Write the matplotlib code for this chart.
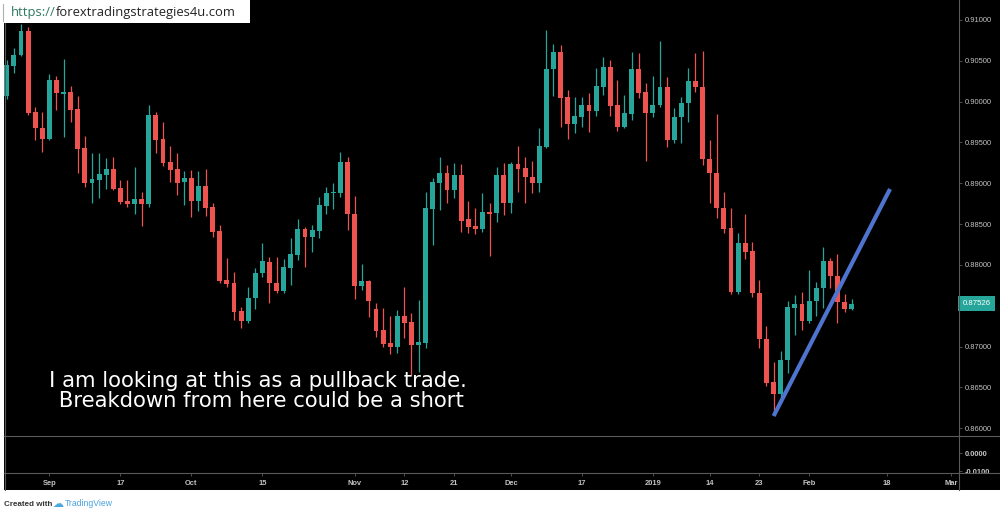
import matplotlib
matplotlib.use("Agg")
import matplotlib.pyplot as plt
import pandas as pd
from matplotlib.patches import Rectangle
from matplotlib.lines import Line2D

# ---------------- data (daily candles) ----------------
opens = [0.90069, 0.90436, 0.90571, 0.90865, 0.89873, 0.89677, 0.89542, 0.90265, 0.90093, 0.90118,
         0.89910, 0.89432, 0.89003, 0.89040, 0.89101, 0.89175, 0.88942, 0.88783, 0.88746, 0.88807,
         0.88746, 0.89836, 0.89542, 0.89260, 0.89175, 0.89015, 0.89064, 0.88783, 0.88966, 0.88709,
         0.88415, 0.87815, 0.87778, 0.87435, 0.87313, 0.87594, 0.87901, 0.88035, 0.87778, 0.87680,
         0.87962, 0.88121, 0.88440, 0.88342, 0.88415, 0.88721, 0.88881, 0.88881, 0.89260, 0.88623,
         0.87741, 0.87803, 0.87460, 0.87202, 0.87043, 0.86994, 0.87374, 0.87300, 0.87019, 0.87043,
         0.88685, 0.89003, 0.89126, 0.88917, 0.89101, 0.88562, 0.88476, 0.88440, 0.88648, 0.88636,
         0.89101, 0.88758, 0.89236, 0.89187, 0.89077, 0.89003, 0.89444, 0.90400, 0.90608, 0.90057,
         0.89726, 0.89812, 0.89959, 0.89885, 0.90179, 0.90424, 0.89959, 0.89689, 0.89848, 0.90400,
         0.90118, 0.89861, 0.89959, 0.90179, 0.89530, 0.89812, 0.89983, 0.90253, 0.90179, 0.89297,
         0.89126, 0.88697, 0.88452, 0.87668, 0.88268, 0.88170, 0.87656, 0.87092, 0.86565, 0.86418,
         0.86835, 0.87472, 0.87521, 0.87313, 0.87558, 0.87717, 0.88048, 0.87864, 0.87545, 0.87460]
highs = [0.90510, 0.90657, 0.90951, 0.90914, 0.89934, 0.89873, 0.90338, 0.90314, 0.90522, 0.90191,
         0.90069, 0.89579, 0.89371, 0.89371, 0.89309, 0.89322, 0.89040, 0.89040, 0.89199, 0.88893,
         0.89959, 0.89873, 0.89750, 0.89456, 0.89371, 0.89150, 0.89162, 0.89150, 0.89175, 0.88758,
         0.88489, 0.88084, 0.87913, 0.87484, 0.87729, 0.87962, 0.88268, 0.88097, 0.88097, 0.88072,
         0.88329, 0.88562, 0.88464, 0.88489, 0.88832, 0.88954, 0.89003, 0.89383, 0.89322, 0.88844,
         0.88011, 0.87815, 0.87533, 0.87472, 0.87374, 0.87447, 0.87729, 0.87411, 0.87570, 0.88893,
         0.89064, 0.89322, 0.89224, 0.89248, 0.89236, 0.88783, 0.88697, 0.88881, 0.88758, 0.89199,
         0.89248, 0.89260, 0.89456, 0.89322, 0.89273, 0.89677, 0.90877, 0.90706, 0.90694, 0.90142,
         0.90057, 0.90057, 0.90106, 0.90412, 0.90547, 0.90510, 0.90265, 0.90081, 0.90608, 0.90596,
         0.90228, 0.90314, 0.90743, 0.90302, 0.89922, 0.90057, 0.90412, 0.90596, 0.90620, 0.89530,
         0.89848, 0.88893, 0.88697, 0.88391, 0.88623, 0.88280, 0.87815, 0.87251, 0.86810, 0.86945,
         0.87558, 0.87631, 0.87668, 0.87937, 0.87790, 0.88219, 0.88084, 0.88133, 0.87643, 0.87582]
lows = [0.90032, 0.90351, 0.90559, 0.89836, 0.89530, 0.89383, 0.89530, 0.89897, 0.89567, 0.89750,
        0.89126, 0.88954, 0.88758, 0.88819, 0.88930, 0.88917, 0.88746, 0.88709, 0.88623, 0.88476,
        0.88709, 0.89371, 0.89211, 0.89015, 0.88856, 0.88734, 0.88587, 0.88660, 0.88599, 0.88342,
        0.87778, 0.87729, 0.87325, 0.87227, 0.87288, 0.87460, 0.87852, 0.87533, 0.87656, 0.87656,
        0.87754, 0.88060, 0.87974, 0.88158, 0.88329, 0.88623, 0.88685, 0.88832, 0.88427, 0.87582,
        0.87692, 0.87362, 0.87117, 0.86994, 0.86908, 0.86921, 0.87104, 0.86651, 0.86688, 0.86982,
        0.88244, 0.88672, 0.88758, 0.88819, 0.88403, 0.88391, 0.88378, 0.88403, 0.88109, 0.88525,
        0.88611, 0.88636, 0.88893, 0.88758, 0.88881, 0.88893, 0.89432, 0.90069, 0.89689, 0.89542,
        0.89616, 0.89689, 0.89628, 0.89824, 0.90081, 0.89824, 0.89640, 0.89677, 0.89775, 0.90044,
        0.89273, 0.89812, 0.89934, 0.89444, 0.89493, 0.89493, 0.89750, 0.90118, 0.89224, 0.88758,
        0.88574, 0.88391, 0.87643, 0.87643, 0.88072, 0.87607, 0.86982, 0.86516, 0.86186, 0.86369,
        0.86676, 0.87141, 0.87202, 0.87288, 0.87374, 0.87472, 0.87717, 0.87288, 0.87423, 0.87447]
closes = [0.90449, 0.90571, 0.90865, 0.89861, 0.89677, 0.89542, 0.90265, 0.90106, 0.90118, 0.89897,
          0.89420, 0.89003, 0.89052, 0.89113, 0.89175, 0.88930, 0.88770, 0.88746, 0.88807, 0.88746,
          0.89836, 0.89530, 0.89248, 0.89162, 0.89003, 0.89064, 0.88783, 0.88966, 0.88697, 0.88403,
          0.87803, 0.87766, 0.87423, 0.87313, 0.87594, 0.87901, 0.88048, 0.87778, 0.87680, 0.87974,
          0.88133, 0.88440, 0.88342, 0.88427, 0.88734, 0.88881, 0.88893, 0.89260, 0.88623, 0.87741,
          0.87803, 0.87558, 0.87190, 0.87031, 0.86994, 0.87374, 0.87288, 0.87019, 0.87055, 0.88697,
          0.89015, 0.89126, 0.88917, 0.89101, 0.88538, 0.88464, 0.88440, 0.88648, 0.88623, 0.89101,
          0.88758, 0.89236, 0.89175, 0.89077, 0.89003, 0.89456, 0.90400, 0.90608, 0.90044, 0.89726,
          0.89824, 0.89959, 0.89885, 0.90191, 0.90424, 0.89946, 0.89689, 0.89861, 0.90400, 0.90106,
          0.89861, 0.89959, 0.90179, 0.89530, 0.89812, 0.89983, 0.90253, 0.90179, 0.89297, 0.89126,
          0.88697, 0.88440, 0.87668, 0.88268, 0.88158, 0.87656, 0.87092, 0.86553, 0.86418, 0.86835,
          0.87484, 0.87521, 0.87313, 0.87558, 0.87717, 0.88048, 0.87864, 0.87545, 0.87460, 0.87526]

first_date = "2018-08-24"
holidays = ["2018-12-25", "2019-01-01"]
tick_dates = ["2018-09-03", "2018-09-17", "2018-10-01", "2018-10-15", "2018-11-01", "2018-11-12",
              "2018-11-21", "2018-12-03", "2018-12-17", "2019-01-02", "2019-01-14", "2019-01-23",
              "2019-02-01", "2019-02-18", "2019-03-01"]
tick_labels = ["Sep", "17", "Oct", "15", "Nov", "12", "21", "Dec", "17", "2019", "14", "23",
               "Feb", "18", "Mar"]
price_ticks = [0.86, 0.865, 0.87, 0.88, 0.885, 0.89, 0.895, 0.90, 0.905, 0.91]
last_price = 0.87526
trend_x = [108.0, 124.4]          # bar index
trend_y = [0.86149, 0.88930]      # price
note_lines = ["I am looking at this as a pullback trade.", " Breakdown from here could be a short"]
url_prefix = "https://"
url_rest = "forextradingstrategies4u.com"

# ---------------- styling ----------------
UP = "#26a69a"
DOWN = "#ef5350"
GRID = "#5a5a5a"
LABEL = "#c4c4c4"

W, H = 1000, 514
fig = plt.figure(figsize=(W / 100, H / 100), dpi=100, facecolor="white")

def fx(px):
    return px / W

def fy(py):
    return 1 - py / H

# black chart background
fig.add_artist(Rectangle((fx(4), fy(490)), fx(996), 490 / H, transform=fig.transFigure,
                         facecolor="black", edgecolor="none", zorder=-10))

# dates / positions
bday = pd.offsets.CustomBusinessDay(holidays=holidays)
all_dates = pd.date_range(first_date, periods=160, freq=bday)
n = len(opens)
xs = list(range(n))
tick_pos = [all_dates.get_loc(pd.Timestamp(d)) for d in tick_dates]

x0_px, step_px = 6.8, 7.1
xlim = ((4 - x0_px) / step_px, (959 - x0_px) / step_px)

# ---------------- main price pane ----------------
ax = fig.add_axes([fx(4), fy(436), fx(955), 436 / H])
ax.set_facecolor("black")
ax.set_xlim(*xlim)
ax.set_ylim(0.91245 - 0.0001225 * 436, 0.91245)

cols = [UP if c >= o else DOWN for o, c in zip(opens, closes)]
ax.vlines(xs, lows, highs, colors=cols, linewidth=0.9, zorder=2)
bottoms = [min(o, c) for o, c in zip(opens, closes)]
heights = [max(abs(c - o), 0.00012) for o, c in zip(opens, closes)]
ax.bar(xs, heights, bottom=bottoms, width=0.7, color=cols, linewidth=0, zorder=3)

ax.plot(trend_x, trend_y, color="#4f74cf", linewidth=3.0, solid_capstyle="butt", zorder=4)

for s in ax.spines.values():
    s.set_visible(False)
ax.set_xticks([])
ax.yaxis.tick_right()
ax.set_yticks(price_ticks)
ax.set_yticklabels([f"{v:.5f}" for v in price_ticks])
ax.tick_params(axis="y", direction="out", length=2.2, width=0.6, color=GRID,
               pad=2.2, labelsize=5.4, labelcolor=LABEL)
for t in ax.get_yticklabels():
    t.set_fontfamily("Liberation Sans")

# last price label
ax.annotate(f"{last_price:.5f}", xy=(1.0, last_price), xycoords=("axes fraction", "data"),
            xytext=(2.4, 0), textcoords="offset points", va="center", ha="left",
            fontsize=5.6, color="white", family="Liberation Sans",
            bbox=dict(boxstyle="square,pad=0.55", facecolor=UP, edgecolor="none"),
            annotation_clip=False, zorder=6)

# ---------------- lower (indicator) pane ----------------
axs = fig.add_axes([fx(4), fy(473), fx(955), 37 / H])
axs.set_facecolor("black")
axs.set_xlim(*xlim)
axs.set_ylim(-0.0111, 0.00944)
for s in axs.spines.values():
    s.set_visible(False)
axs.yaxis.tick_right()
axs.set_yticks([0.0, -0.01])
axs.set_yticklabels(["0.0000", "-0.0100"])
axs.tick_params(axis="y", direction="out", length=2.2, width=0.6, color=GRID,
                pad=2.2, labelsize=5.4, labelcolor=LABEL)
axs.set_xticks(tick_pos)
axs.set_xticklabels(tick_labels)
axs.tick_params(axis="x", direction="out", length=1.8, width=0.6, color=GRID,
                pad=3.0, labelsize=5.4, labelcolor=LABEL)
for t in axs.get_yticklabels() + axs.get_xticklabels():
    t.set_fontfamily("Liberation Sans")
    t.set_fontweight("bold")

# cover overflow of the clipped -0.0100 label
fig.add_artist(Rectangle((fx(960), fy(490)), fx(40), 16.5 / H, transform=fig.transFigure,
                         facecolor="black", edgecolor="none", zorder=5))

# separator lines
for (xa, ya, xb, yb) in [(959, 0, 959, 490), (4, 436, 1000, 436), (4, 473, 1000, 473),
                         (4.5, 0, 4.5, 490)]:
    fig.add_artist(Line2D([fx(xa), fx(xb)], [fy(ya), fy(yb)], transform=fig.transFigure,
                          color=GRID, linewidth=0.8, zorder=6))

# ---------------- annotation text ----------------
fig.text(fx(258), fy(387), note_lines[0], ha="center", va="baseline",
         fontsize=15.2, color="white", family="DejaVu Sans", zorder=7)
fig.text(fx(258), fy(407), note_lines[1], ha="center", va="baseline",
         fontsize=15.2, color="white", family="DejaVu Sans", zorder=7)

# ---------------- URL box ----------------
fig.add_artist(Rectangle((0, fy(23)), fx(250), 23 / H, transform=fig.transFigure,
                         facecolor="white", edgecolor="none", zorder=8))
fig.add_artist(Line2D([fx(3), fx(3)], [fy(4), fy(21)], transform=fig.transFigure,
                      color="#b0b0b0", linewidth=0.8, zorder=9))
t1 = fig.text(fx(11), fy(16), url_prefix, ha="left", va="baseline", fontsize=9.4,
              color="#2f7a62", family="Open Sans", zorder=9)
fig.canvas.draw()
bb = t1.get_window_extent()
fig.text(bb.x1 / W, fy(16), url_rest, ha="left", va="baseline", fontsize=9.4,
         color="#222222", family="Open Sans", zorder=9)

# ---------------- footer ----------------
fig.text(fx(4), fy(506), "Created with", ha="left", va="baseline", fontsize=5.8,
         color="#333333", family="Liberation Sans", fontweight="bold")
fig.text(fx(52), fy(507), "\u2601", ha="left", va="baseline", fontsize=8,
         color="#4aa8e0", family="DejaVu Sans")
fig.text(fx(65), fy(506), "TradingView", ha="left", va="baseline", fontsize=6.2,
         color="#4aa3df", family="Liberation Sans")

fig.savefig("out.png", dpi=100, facecolor="white")
